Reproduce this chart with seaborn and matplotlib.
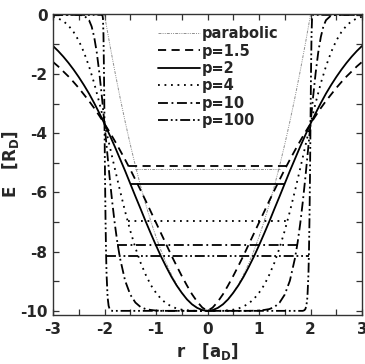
import matplotlib
matplotlib.use("Agg")
import matplotlib.pyplot as plt
from matplotlib.ticker import MultipleLocator
import seaborn as sns

# ---------------- data ----------------
r_grid = [-3.0, -2.9, -2.8, -2.7, -2.6, -2.5, -2.4, -2.3, -2.2, -2.1, -2.0,
          -1.9, -1.8, -1.7, -1.6, -1.5, -1.4, -1.3, -1.2, -1.1, -1.0,
          -0.9, -0.8, -0.7, -0.6, -0.5, -0.4, -0.3, -0.2, -0.1, 0.0,
          0.1, 0.2, 0.3, 0.4, 0.5, 0.6, 0.7, 0.8, 0.9, 1.0,
          1.1, 1.2, 1.3, 1.4, 1.5, 1.6, 1.7, 1.8, 1.9, 2.0,
          2.1, 2.2, 2.3, 2.4, 2.5, 2.6, 2.7, 2.8, 2.9, 3.0]

E_p15 = [-1.59, -1.74, -1.91, -2.08, -2.27, -2.47, -2.69, -2.91, -3.15, -3.41, -3.68,
         -3.96, -4.26, -4.57, -4.89, -5.22, -5.57, -5.92, -6.28, -6.65, -7.02,
         -7.39, -7.76, -8.13, -8.48, -8.82, -9.14, -9.44, -9.69, -9.89, -10.0,
         -9.89, -9.69, -9.44, -9.14, -8.82, -8.48, -8.13, -7.76, -7.39, -7.02,
         -6.65, -6.28, -5.92, -5.57, -5.22, -4.89, -4.57, -4.26, -3.96, -3.68,
         -3.41, -3.15, -2.91, -2.69, -2.47, -2.27, -2.08, -1.91, -1.74, -1.59]

E_p2 = [-1.05, -1.22, -1.41, -1.62, -1.85, -2.10, -2.37, -2.66, -2.98, -3.32, -3.68,
        -4.06, -4.45, -4.86, -5.27, -5.70, -6.13, -6.55, -6.98, -7.39, -7.79,
        -8.17, -8.52, -8.85, -9.14, -9.39, -9.61, -9.78, -9.90, -9.975, -10.0,
        -9.975, -9.90, -9.78, -9.61, -9.39, -9.14, -8.85, -8.52, -8.17, -7.79,
        -7.39, -6.98, -6.55, -6.13, -5.70, -5.27, -4.86, -4.45, -4.06, -3.68,
        -3.32, -2.98, -2.66, -2.37, -2.10, -1.85, -1.62, -1.41, -1.22, -1.05]

E_p4 = [-0.06, -0.12, -0.21, -0.36, -0.58, -0.87, -1.26, -1.74, -2.31, -2.97, -3.68,
        -4.43, -5.19, -5.93, -6.64, -7.29, -7.87, -8.37, -8.78, -9.13, -9.39,
        -9.60, -9.75, -9.85, -9.92, -9.96, -9.98, -9.995, -10.0, -10.0, -10.0,
        -10.0, -10.0, -9.995, -9.98, -9.96, -9.92, -9.85, -9.75, -9.60, -9.39,
        -9.13, -8.78, -8.37, -7.87, -7.29, -6.64, -5.93, -5.19, -4.43, -3.68,
        -2.97, -2.31, -1.74, -1.26, -0.87, -0.58, -0.36, -0.21, -0.12, -0.06]

r_p10 = [-3.0, -2.5, -2.4, -2.3, -2.25, -2.2, -2.15, -2.1, -2.05, -2.0,
         -1.95, -1.9, -1.85, -1.8, -1.75, -1.7, -1.6, -1.5, -1.4, -1.3,
         -1.2, -1.1, -1.0, -0.8, -0.5, 0.0, 0.5, 0.8, 1.0, 1.1,
         1.2, 1.3, 1.4, 1.5, 1.6, 1.7, 1.75, 1.8, 1.85, 1.9,
         1.95, 2.0, 2.05, 2.1, 2.15, 2.2, 2.25, 2.3, 2.4, 2.5, 3.0]
E_p10 = [0.0, 0.0, -0.02, -0.18, -0.39, -0.75, -1.27, -1.96, -2.78, -3.68,
         -4.60, -5.50, -6.32, -7.06, -7.69, -8.21, -8.98, -9.45, -9.72, -9.87,
         -9.94, -9.97, -9.99, -10.0, -10.0, -10.0, -10.0, -10.0, -9.99, -9.97,
         -9.94, -9.87, -9.72, -9.45, -8.98, -8.21, -7.69, -7.06, -6.32, -5.50,
         -4.60, -3.68, -2.78, -1.96, -1.27, -0.75, -0.39, -0.18, -0.02, 0.0, 0.0]

r_p100 = [-3.0, -2.1, -2.05, -2.04, -2.03, -2.02, -2.01, -2.0,
          -1.99, -1.98, -1.97, -1.96, -1.94, -1.92, -1.9, -1.88, -1.85, -1.8,
          0.0,
          1.8, 1.85, 1.88, 1.9, 1.92, 1.94, 1.96, 1.97, 1.98, 1.99,
          2.0, 2.01, 2.02, 2.03, 2.04, 2.05, 2.1, 3.0]
E_p100 = [0.0, 0.0, 0.0, -0.01, -0.12, -0.67, -1.93, -3.68,
          -5.46, -6.93, -8.02, -8.76, -9.54, -9.83, -9.94, -9.98, -10.0, -10.0,
          -10.0,
          -10.0, -10.0, -9.98, -9.94, -9.83, -9.54, -8.76, -8.02, -6.93, -5.46,
          -3.68, -1.93, -0.67, -0.12, -0.01, 0.0, 0.0, 0.0]

r_par = [-3.0, -2.0, -1.9, -1.8, -1.7, -1.6, -1.5, -1.4, -1.3, -1.2, -1.1,
         -1.0, -0.9, -0.8, -0.7, -0.6, -0.5, -0.4, -0.3, -0.2, -0.1, 0.0,
         0.1, 0.2, 0.3, 0.4, 0.5, 0.6, 0.7, 0.8, 0.9, 1.0,
         1.1, 1.2, 1.3, 1.4, 1.5, 1.6, 1.7, 1.8, 1.9, 2.0, 3.0]
E_par = [0.0, 0.0, -0.975, -1.9, -2.775, -3.6, -4.375, -5.1, -5.775, -6.4, -6.975,
         -7.5, -7.975, -8.4, -8.775, -9.1, -9.375, -9.6, -9.775, -9.9, -9.975, -10.0,
         -9.975, -9.9, -9.775, -9.6, -9.375, -9.1, -8.775, -8.4, -7.975, -7.5,
         -6.975, -6.4, -5.775, -5.1, -4.375, -3.6, -2.775, -1.9, -0.975, 0.0, 0.0]

labels = ["parabolic", "p=1.5", "p=2", "p=4", "p=10", "p=100"]
level_E = [-5.22, -5.12, -5.72, -6.96, -7.78, -8.14]
level_r = [1.40, 1.53, 1.49, 1.54, 1.75, 1.97]

x_ticks = [-3, -2, -1, 0, 1, 2, 3]
y_ticks = [0, -2, -4, -6, -8, -10]

# ---------------- styling ----------------
sns.set_style("ticks")
plt.rcParams["font.family"] = ["DejaVu Sans"]
plt.rcParams["font.weight"] = "bold"
plt.rcParams["axes.unicode_minus"] = False
plt.rcParams["mathtext.fontset"] = "custom"
plt.rcParams["mathtext.rm"] = "DejaVu Sans:bold"
plt.rcParams["mathtext.it"] = "DejaVu Sans:bold"
plt.rcParams["mathtext.bf"] = "DejaVu Sans:bold"

styles = [
    dict(color="#8f8f8f", lw=0.7, linestyle=(0, (3, 1.2, 1, 1.2, 1, 1.2))),
    dict(color="black", lw=1.3, linestyle=(0, (4.5, 3))),
    dict(color="black", lw=1.3, linestyle="-"),
    dict(color="black", lw=1.3, linestyle=(0, (1, 2.6))),
    dict(color="black", lw=1.3, linestyle=(0, (5.5, 2, 1, 2))),
    dict(color="black", lw=1.3, linestyle=(0, (5.5, 1.6, 1, 1.6, 1, 1.6))),
]

curves = [(r_par, E_par), (r_grid, E_p15), (r_grid, E_p2),
          (r_grid, E_p4), (r_p10, E_p10), (r_p100, E_p100)]

fig = plt.figure(figsize=(3.65, 3.64), dpi=100)
ax = fig.add_axes([53 / 365, 1 - 315 / 364, 309 / 365, 301 / 364])

handles = []
for (rx, ey), lab, st in zip(curves, labels, styles):
    sns.lineplot(x=rx, y=ey, ax=ax, sort=False, estimator=None, label=lab, **st)
    handles.append(ax.lines[-1])

for e, rr, st in zip(level_E, level_r, styles):
    sns.lineplot(x=[-rr, rr], y=[e, e], ax=ax, sort=False, estimator=None,
                 legend=False, **st)

ax.set_xlim(-3, 3)
ax.set_ylim(-10.14, 0.03)
ax.set_xticks(x_ticks)
ax.set_yticks(y_ticks)
ax.xaxis.set_minor_locator(MultipleLocator(0.5))
ax.yaxis.set_minor_locator(MultipleLocator(1))
ax.tick_params(which="both", direction="in", top=True, right=True,
               length=4, width=0.9, color="#333333")
ax.tick_params(axis="x", labelsize=11, pad=5)
ax.tick_params(axis="y", labelsize=11, pad=4)
for lbl in ax.get_xticklabels() + ax.get_yticklabels():
    lbl.set_fontweight("bold")
for sp in ax.spines.values():
    sp.set_linewidth(1.0)
    sp.set_color("#333333")

ax.set_xlabel("r   [a$_\\mathrm{D}$]", fontsize=12, fontweight="bold")
ax.set_ylabel("E   [R$_\\mathrm{D}$]", fontsize=12, fontweight="bold")
ax.xaxis.set_label_coords(0.5, -0.086)
ax.yaxis.set_label_coords(-0.104, 0.5)

ax.legend(handles=handles, labels=labels, loc="upper left",
          bbox_to_anchor=(0.34, 0.96), frameon=False, borderpad=0,
          borderaxespad=0, handlelength=2.9, handletextpad=0.1,
          labelspacing=0.17, prop=dict(size=10.5, weight="bold"))

fig.savefig("out.png", dpi=100)
